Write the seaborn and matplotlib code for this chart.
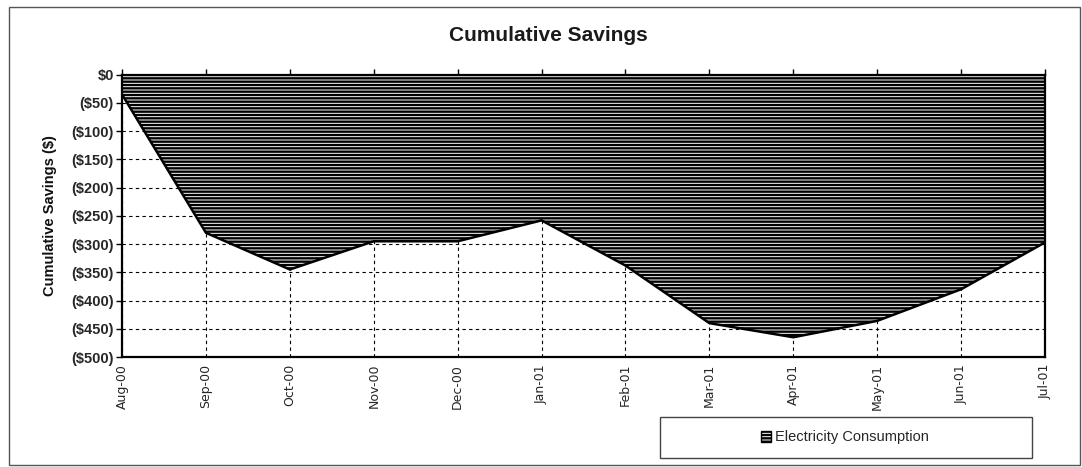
import numpy as np
import pandas as pd
import seaborn as sns
from matplotlib import pyplot as plt
from matplotlib.patches import Patch, Rectangle
from matplotlib.ticker import FuncFormatter

# Data
months = ['Aug-00', 'Sep-00', 'Oct-00', 'Nov-00', 'Dec-00', 'Jan-01',
          'Feb-01', 'Mar-01', 'Apr-01', 'May-01', 'Jun-01', 'Jul-01']
savings = [-35, -280, -345, -295, -295, -258, -338, -440, -465, -436, -380, -297]
series_name = 'Electricity Consumption'

sns.set_style('white')
plt.rcParams['font.family'] = ['Liberation Sans', 'DejaVu Sans']
plt.rcParams['hatch.linewidth'] = 1.7
plt.rcParams['hatch.color'] = 'black'

df = pd.DataFrame({'month': months, 'savings': savings})
df['pos'] = np.arange(len(df))

fig = plt.figure(figsize=(10.82, 4.67), dpi=100)
ax = fig.add_axes([0.1128, 0.2355, 0.8530, 0.6045])

# Area between zero and the curve, horizontal line pattern
ax.fill_between(df['pos'], 0, df['savings'], facecolor='white', edgecolor='black',
                hatch='-----', linewidth=0, zorder=2)
sns.lineplot(data=df, x='pos', y='savings', color='black', linewidth=1.8,
             sort=False, ax=ax, zorder=3)

ax.set_xlim(0, len(df) - 1)
ax.set_ylim(-500, 0)
ax.set_yticks(np.arange(-500, 1, 50))

def money(x, pos):
    return '$0' if x == 0 else '(${:,.0f})'.format(abs(x))

ax.yaxis.set_major_formatter(FuncFormatter(money))
ax.set_xticks(df['pos'])
ax.set_xticklabels(df['month'], rotation=90,
                   fontfamily=['Liberation Sans Narrow', 'DejaVu Sans'], fontsize=9)

# Excel style: x axis crosses at $0, ticks at the top, labels at the bottom
ax.tick_params(axis='x', top=True, bottom=False, labeltop=False, labelbottom=True,
               direction='out', length=4, width=1, color='black', pad=1)
ax.tick_params(axis='y', left=True, direction='out', length=4, width=1,
               color='black', labelsize=10.5, pad=2)
for lbl in ax.get_yticklabels():
    lbl.set_fontweight('bold')

ax.grid(True, color='black', linestyle=(0, (3, 3)), linewidth=0.8, zorder=1)
ax.set_axisbelow(True)
for s in ax.spines.values():
    s.set_visible(True)
    s.set_color('black')
    s.set_linewidth(1.6)
    s.set_zorder(4)

ax.set_xlabel('')
ax.set_ylabel('Cumulative Savings ($)', fontsize=10.5, fontweight='bold', labelpad=10,
              color='#111111')

fig.suptitle('Cumulative Savings', x=0.507, y=0.945, fontsize=15, fontweight='bold',
             color='#1a1a1a')

# Legend box below the plot
fig.patches.append(Rectangle((660 / 1082, 1 - 458 / 467), 372 / 1082, 41 / 467,
                             transform=fig.transFigure, facecolor='white',
                             edgecolor='#444444', linewidth=1.0))
handle = Patch(facecolor='white', edgecolor='black', hatch='-----', linewidth=1.0)
fig.legend([handle], [series_name], loc='center', frameon=False,
           bbox_to_anchor=(845 / 1082, 1 - 437.5 / 467), fontsize=10.5,
           handlelength=0.7, handleheight=0.7, handletextpad=0.25)

# Outer chart border
fig.patches.append(Rectangle((9 / 1082, 1 - 465 / 467), 1071 / 1082, 458 / 467,
                             transform=fig.transFigure, fill=False,
                             edgecolor='#555555', linewidth=1.0))

fig.savefig('out.png', dpi=100)
